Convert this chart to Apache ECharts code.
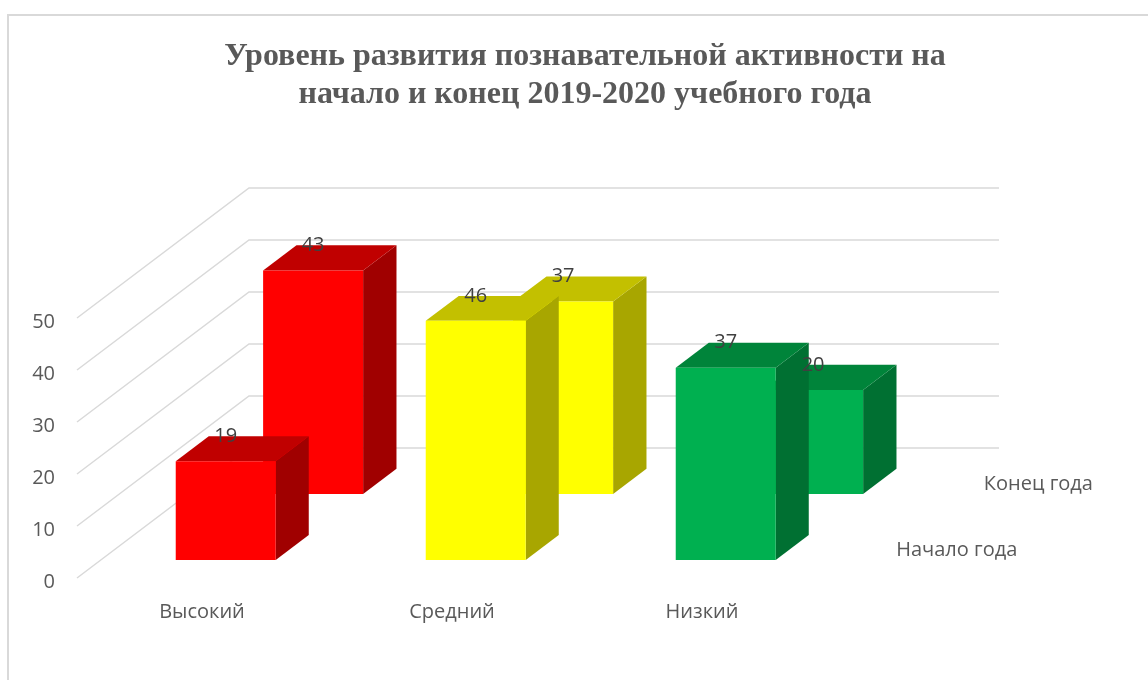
<!DOCTYPE html>
<html>
<head>
<meta charset="utf-8">
<script src="https://cdn.jsdelivr.net/npm/echarts@6/dist/echarts.min.js"></script>
<style>
  html, body { margin: 0; padding: 0; background: #fff; }
  #chart { width: 1148px; height: 680px; }
</style>
</head>
<body>
<div id="chart"></div>
<script>
// data
const categories = ['Высокий', 'Средний', 'Низкий'];
const seriesNames = ['Начало года', 'Конец года'];
const startValues = [19, 46, 37];
const endValues = [43, 37, 20];
const yTicks = [0, 10, 20, 30, 40, 50];

// per-category colours: front, top, side
const faceColors = [
  ['#ff0000', '#c00000', '#a00000'],
  ['#ffff00', '#c3c000', '#a8a600'],
  ['#00b050', '#00843a', '#007032']
];

// depth vector of the whole box (front plane -> back wall), px
const DEPTH_X = 172;
const DEPTH_Y = -130;
// depth slot of each row, as part of the full depth
const rows = [
  { from: 0.138, to: 0.33 },  // Начало года
  { from: 0.646, to: 0.84 }   // Конец года
];
const BAR_RATIO = 0.4;

const chart = echarts.init(document.getElementById('chart'));

function shift(p, d) {
  return [p[0] + DEPTH_X * d, p[1] + DEPTH_Y * d];
}

function barItem(row) {
  return function (params, api) {
    const cat = api.value(0);
    const val = api.value(1);
    const base = api.coord([cat, 0]);
    const top = api.coord([cat, val]);
    const bw = api.size([1, 0])[0] * BAR_RATIO;
    const x0 = base[0] - bw / 2;
    const x1 = base[0] + bw / 2;
    const f = rows[row].from, b = rows[row].to;
    const c = faceColors[cat];
    const fbl = shift([x0, base[1]], f), fbr = shift([x1, base[1]], f);
    const ftl = shift([x0, top[1]], f), ftr = shift([x1, top[1]], f);
    const btl = shift([x0, top[1]], b), btr = shift([x1, top[1]], b);
    const bbr = shift([x1, base[1]], b);
    return {
      type: 'group',
      children: [
        { type: 'polygon', shape: { points: [fbr, ftr, btr, bbr] }, style: { fill: c[2] } },
        { type: 'polygon', shape: { points: [ftl, ftr, btr, btl] }, style: { fill: c[1] } },
        { type: 'polygon', shape: { points: [fbl, fbr, ftr, ftl] }, style: { fill: c[0] } }
      ]
    };
  };
}

function labelItem(params, api) {
  const cat = api.value(0);
  const val = api.value(1);
  const row = api.value(2);
  const top = api.coord([cat, val]);
  const p = shift(top, rows[row].to);
  const q = shift(top, rows[row].from);
  return {
    type: 'text',
    style: {
      x: q[0], y: p[1],
      text: String(val),
      fill: '#404040',
      font: '20px "Open Sans"',
      align: 'center', verticalAlign: 'middle'
    }
  };
}

function gridItem(params, api) {
  const cs = params.coordSys;
  const y = api.coord([0, api.value(0)])[1];
  const p0 = [cs.x, y];
  const p1 = shift(p0, 1);
  const p2 = [cs.x + cs.width + DEPTH_X, y + DEPTH_Y];
  return {
    type: 'polyline',
    shape: { points: [p0, p1, p2] },
    style: { stroke: '#d9d9d9', lineWidth: 1.5, fill: null }
  };
}

function depthLabelItem(params, api) {
  const cs = params.coordSys;
  const row = params.dataIndex;
  const mid = (rows[row].from + rows[row].to) / 2;
  const p = shift([cs.x + cs.width, cs.y + cs.height], mid);
  return {
    type: 'text',
    style: {
      x: p[0] + 29, y: p[1] + 3,
      text: seriesNames[row],
      fill: '#595959',
      font: '20px "Open Sans"',
      align: 'left', verticalAlign: 'middle'
    }
  };
}

const labelData = [];
startValues.forEach((v, i) => labelData.push([i, v, 0]));
endValues.forEach((v, i) => labelData.push([i, v, 1]));

chart.setOption({
  animation: false,
  title: {
    text: 'Уровень развития познавательной активности на\nначало и конец 2019-2020 учебного года',
    left: 580,
    top: 33,
    textAlign: 'center',
    textStyle: {
      fontFamily: '"Liberation Serif", "Times New Roman", serif',
      fontWeight: 'bold',
      fontSize: 32,
      lineHeight: 38,
      color: '#595959'
    }
  },
  graphic: [{
    type: 'rect',
    shape: { x: 8, y: 15, width: 1200, height: 700 },
    style: { fill: null, stroke: '#d9d9d9', lineWidth: 2 },
    silent: true
  }],
  grid: { left: 77, right: 321, top: 318, bottom: 102 },
  xAxis: {
    type: 'category',
    data: categories,
    axisLine: { show: false },
    axisTick: { show: false },
    axisLabel: {
      margin: 24,
      color: '#595959',
      fontSize: 20,
      fontFamily: 'Open Sans'
    }
  },
  yAxis: {
    type: 'value',
    min: 0,
    max: 50,
    interval: 10,
    axisLine: { show: false },
    axisTick: { show: false },
    splitLine: { show: false },
    axisLabel: {
      margin: 22,
      formatter: v => '{t|' + v + '}',
      rich: {
        t: {
          color: '#595959',
          fontSize: 20,
          fontFamily: 'Open Sans',
          padding: [8, 0, 0, 0]
        }
      }
    }
  },
  series: [
    {
      type: 'custom', name: 'grid', z: 1, silent: true,
      renderItem: gridItem,
      data: yTicks.map(t => [t])
    },
    {
      type: 'custom', name: seriesNames[1], z: 2,
      renderItem: barItem(1),
      data: endValues.map((v, i) => [i, v])
    },
    {
      type: 'custom', name: seriesNames[0], z: 3,
      renderItem: barItem(0),
      data: startValues.map((v, i) => [i, v])
    },
    {
      type: 'custom', name: 'labels', z: 5, silent: true,
      renderItem: labelItem,
      data: labelData
    },
    {
      type: 'custom', name: 'depth', z: 5, silent: true,
      renderItem: depthLabelItem,
      data: seriesNames.map((n, i) => [i])
    }
  ]
});
</script>
</body>
</html>
